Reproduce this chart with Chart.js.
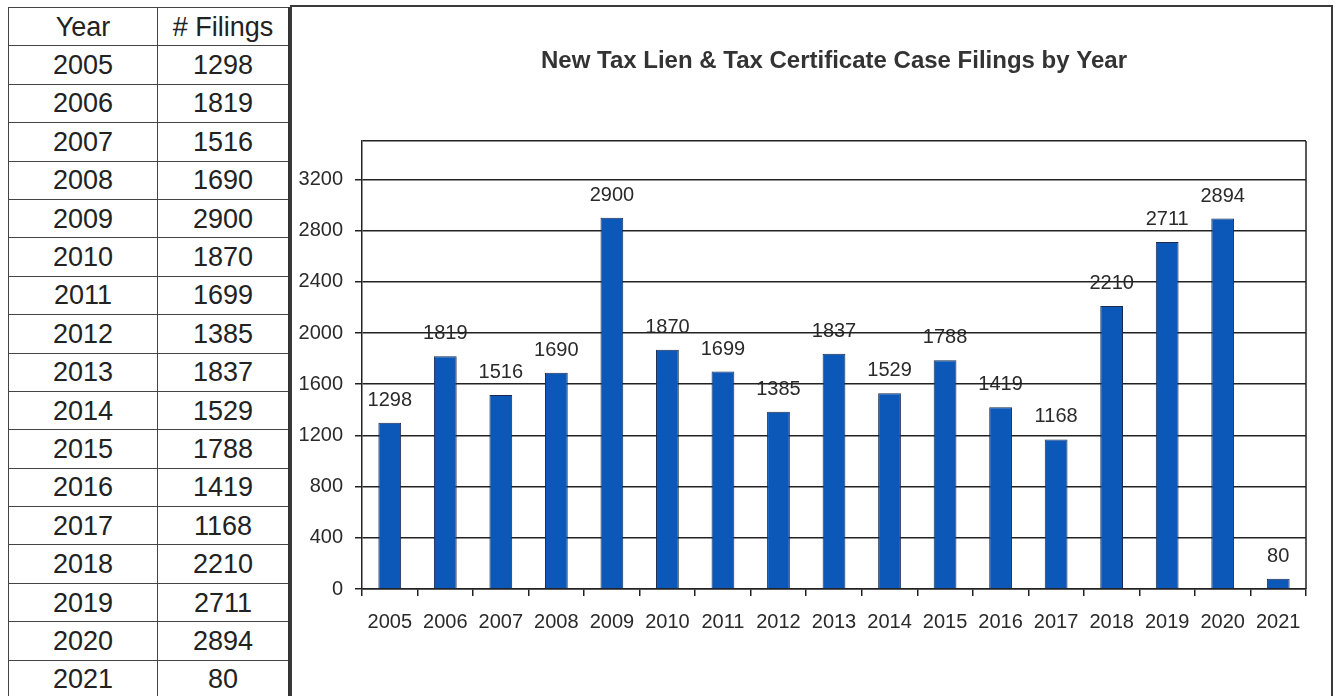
<!DOCTYPE html>
<html>
<head>
<meta charset="utf-8">
<script src="https://cdn.jsdelivr.net/npm/chart.js@4"></script>
<style>
  body { margin: 0; background: #fff; width: 1338px; height: 696px; overflow: hidden; position: relative; }
  #tbl { position: absolute; left: 8px; top: 7px; border-collapse: collapse; font-family: 'Liberation Sans', Arial, sans-serif; font-size: 27px; color: #222; }
  #tbl tr { height: 38.4px; }
  #tbl td { border: 1.5px solid #444; padding: 0; text-align: center; line-height: 30px; }
  #tbl td.c1 { width: 148px; }
  #tbl td.c2 { width: 130px; border-right: 2px solid #333; }
  #frame { position: absolute; left: 290px; top: 5px; width: 1039px; height: 720px; border: 2px solid #3a3a3a; }
  #chart { position: absolute; left: 292px; top: 7px; }
</style>
</head>
<body>
<table id="tbl"></table>
<div id="frame"></div>
<canvas id="chart" width="1039" height="689"></canvas>
<script>
// data
const years = ['2005', '2006', '2007', '2008', '2009', '2010', '2011', '2012', '2013',
  '2014', '2015', '2016', '2017', '2018', '2019', '2020', '2021'];
const filings = [1298, 1819, 1516, 1690, 2900, 1870, 1699, 1385, 1837,
  1529, 1788, 1419, 1168, 2210, 2711, 2894, 80];
const yTicks = [0, 400, 800, 1200, 1600, 2000, 2400, 2800, 3200];
const chartTitle = 'New Tax Lien & Tax Certificate Case Filings by Year';

// the original uses Arial Narrow; no narrow face here, so a smaller Liberation Sans keeps the widths
const narrow = "'Liberation Sans Narrow', 'Arial Narrow', 'Liberation Sans', sans-serif";

// table on the left
let table = document.getElementById('tbl');
let head = '<tr><td class="c1">Year</td><td class="c2"># Filings</td></tr>';
let rows = '';
for (let i = 0; i < years.length; i++) {
  rows += '<tr><td class="c1">' + years[i] + '</td><td class="c2">' + filings[i] + '</td></tr>';
}
table.innerHTML = head + rows;

// labels above bars, drawn first so the grid lines run over them like the original
const valueLabels = {
  id: 'valueLabels',
  beforeDraw(chart) {
    const ctx = chart.ctx;
    const meta = chart.getDatasetMeta(0);
    ctx.save();
    ctx.font = '20px ' + narrow;
    ctx.fillStyle = '#2a2a2a';
    ctx.textAlign = 'center';
    ctx.textBaseline = 'alphabetic';
    meta.data.forEach((bar, i) => {
      ctx.fillText(String(filings[i]), bar.x, bar.y - 17);
    });
    ctx.restore();
  }
};

// plot border and title
const plotFrame = {
  id: 'plotFrame',
  afterDraw(chart) {
    const ctx = chart.ctx;
    const a = chart.chartArea;
    ctx.save();
    ctx.strokeStyle = '#222';
    ctx.lineWidth = 1.5;
    ctx.beginPath();
    ctx.moveTo(a.right, a.top);
    ctx.lineTo(a.right, a.bottom);
    ctx.stroke();
    ctx.font = 'bold 24px ' + narrow;
    ctx.fillStyle = '#333';
    ctx.textAlign = 'center';
    ctx.textBaseline = 'middle';
    ctx.fillText(chartTitle, (a.left + a.right) / 2, 54);
    ctx.restore();
  }
};

new Chart(document.getElementById('chart'), {
  type: 'bar',
  data: {
    labels: years,
    datasets: [{
      label: '# Filings',
      data: filings,
      backgroundColor: '#0b58b8',
      borderColor: '#1b2a4c',
      borderWidth: 1,
      barPercentage: 0.41,
      categoryPercentage: 1
    }]
  },
  options: {
    responsive: false,
    animation: false,
    layout: { padding: { left: 0, right: 25, top: 134, bottom: 0 } },
    plugins: {
      legend: { display: false },
      title: { display: false },
      tooltip: { enabled: false }
    },
    scales: {
      x: {
        afterFit(scale) { scale.height = 107; },
        grid: { offset: true, drawOnChartArea: false, color: '#222', lineWidth: 1.5, tickLength: 7 },
        border: { color: '#222', width: 1.5 },
        ticks: { color: '#2a2a2a', font: { family: narrow, size: 20 }, padding: 14, maxRotation: 0, autoSkip: false }
      },
      y: {
        min: 0,
        max: 3500,
        afterFit(scale) { scale.width = 70; },
        afterBuildTicks(scale) {
          scale.ticks = yTicks.map(v => ({ value: v })).concat([{ value: 3500 }]);
        },
        grid: {
          color: '#222',
          lineWidth: 1.5,
          tickLength: 7,
          tickColor: ctx => (ctx.tick && ctx.tick.value === 3500 ? 'rgba(0,0,0,0)' : '#222')
        },
        border: { color: '#222', width: 1.5 },
        ticks: {
          color: '#2a2a2a',
          font: { family: narrow, size: 20 },
          padding: 12,
          callback: v => (yTicks.includes(v) ? String(v) : '')
        }
      }
    }
  },
  plugins: [valueLabels, plotFrame]
});
</script>
</body>
</html>
